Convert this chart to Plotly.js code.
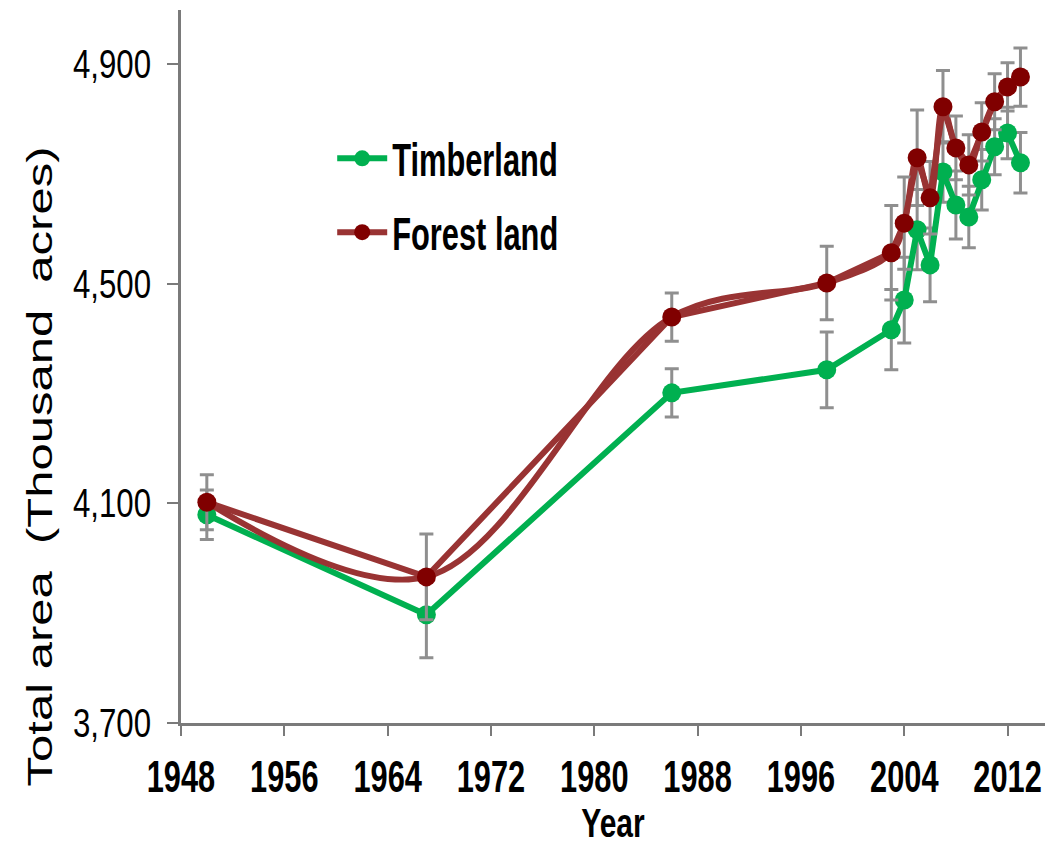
<!DOCTYPE html>
<html>
<head>
<meta charset="utf-8">
<script src="https://cdn.plot.ly/plotly-3.0.1.min.js"></script>
<style>html,body{margin:0;padding:0;background:#fff}</style>
</head>
<body>
<div id="chart" style="width:1045px;height:850px"></div>
<script>
// ---- data ----
const years = [1950, 1967, 1986, 1998, 2003, 2004, 2005, 2006, 2007, 2008, 2009, 2010, 2011, 2012, 2013];
const timberland = [4079, 3897, 4301, 4343, 4416, 4470, 4598, 4534, 4703, 4643, 4621, 4689, 4749, 4774, 4720];
const timberlandErr = [45, 78, 44, 69, 73, 78, 73, 67, 55, 62, 56, 55, 51, 47, 55];
const forestLand = [4102, 3966, 4439, 4501, 4556, 4610, 4729, 4656, 4822, 4747, 4716, 4776, 4831, 4858, 4876];
const forestLandErr = [50, 78, 44, 67, 86, 84, 87, 66, 66, 58, 55, 53, 51, 44, 53];
const xTickVals = [1948, 1956, 1964, 1972, 1980, 1988, 1996, 2004, 2012];
const yTickVals = [3700, 4100, 4500, 4900];
const seriesNames = ['Timberland', 'Forest land'];

// ---- styling ----
const FONT = '"Liberation Sans", Arial, sans-serif';
const GREEN = '#00b050';
const RED_LINE = '#993333';
const RED_MARK = '#800000';
const AXIS = '#7a7a7a';
const ERR = '#8f8f8f';

const traces = [
  {
    x: years, y: timberland, name: seriesNames[0], type: 'scatter', mode: 'lines+markers',
    legendgroup: 'g1', legendrank: 1,
    line: {color: GREEN, width: 6},
    marker: {color: GREEN, size: 19},
    error_y: {type: 'data', array: timberlandErr, visible: true, color: ERR, thickness: 3, width: 7}
  },
  {
    x: years, y: forestLand, name: seriesNames[1], type: 'scatter', mode: 'lines',
    showlegend: false, hoverinfo: 'skip',
    line: {color: RED_LINE, width: 6, shape: 'spline', smoothing: 1}
  },
  {
    x: years, y: forestLand, name: seriesNames[1], type: 'scatter', mode: 'lines+markers',
    legendgroup: 'g2', legendrank: 2,
    line: {color: RED_LINE, width: 6},
    marker: {color: RED_MARK, size: 19},
    error_y: {type: 'data', array: forestLandErr, visible: true, color: ERR, thickness: 3, width: 7}
  }
];

const layout = {
  width: 1045, height: 850,
  margin: {l: 181, r: 0, t: 10, b: 127},
  paper_bgcolor: '#fff', plot_bgcolor: '#fff',
  showlegend: true,
  legend: {
    x: 0.175, y: 0.843, xanchor: 'left', yanchor: 'top',
    bgcolor: 'rgba(0,0,0,0)', borderwidth: 0,
    font: {family: FONT, size: 46, color: '#000', weight: 'bold'},
    traceorder: 'grouped', tracegroupgap: 11, itemwidth: 50
  },
  xaxis: {
    range: [1948, 2014.9],
    tickmode: 'array', tickvals: xTickVals,
    ticks: 'outside', ticklen: 10, tickwidth: 2, tickcolor: AXIS,
    showline: true, linecolor: AXIS, linewidth: 3,
    showgrid: false, zeroline: false,
    tickfont: {family: FONT, size: 44, color: '#000', weight: 'bold'},
    ticklabeloverflow: 'allow',
    ticklabelstandoff: 3,
    title: {text: 'Year', font: {family: FONT, size: 40, color: '#000', weight: 'bold'}, standoff: 10}
  },
  yaxis: {
    range: [3700, 4998],
    tickmode: 'array', tickvals: yTickVals, tickformat: ',d',
    ticks: 'outside', ticklen: 11, tickwidth: 2, tickcolor: AXIS,
    showline: true, linecolor: AXIS, linewidth: 3,
    showgrid: false, zeroline: false,
    tickfont: {family: FONT, size: 40, color: '#000'},
    ticklabelstandoff: 8
  },
  annotations: [{
    text: 'Total area  (Thousand  acres)',
    textangle: -90, showarrow: false,
    xref: 'paper', yref: 'paper', x: -0.163, y: 0.36,
    xanchor: 'center', yanchor: 'middle',
    font: {family: FONT, size: 49, color: '#000'}
  }]
};

// narrow the lettering like the reference (horizontal squeeze around an anchor)
function squeeze(selector, sx, sy, anchor) {
  document.querySelectorAll(selector).forEach(function (t) {
    const b = t.getBBox();
    const cx = anchor === 'start' ? b.x : (anchor === 'end' ? b.x + b.width : b.x + b.width / 2);
    const cy = b.y + b.height / 2;
    const prev = t.getAttribute('transform') || '';
    t.setAttribute('transform', prev + ' translate(' + cx + ',' + cy + ') scale(' + sx + ',' + sy + ') translate(' + (-cx) + ',' + (-cy) + ')');
  });
}

Plotly.newPlot('chart', traces, layout, {displayModeBar: false, staticPlot: true}).then(function () {
  squeeze('#chart .xtick text', 0.7, 1, 'middle');
  squeeze('#chart .ytick text', 0.78, 1, 'end');
  squeeze('#chart .legendtext', 0.67, 1, 'start');
  squeeze('#chart .g-xtitle text', 0.75, 1, 'middle');
  squeeze('#chart .annotation-text', 1, 0.72, 'middle');
});
</script>
</body>
</html>
